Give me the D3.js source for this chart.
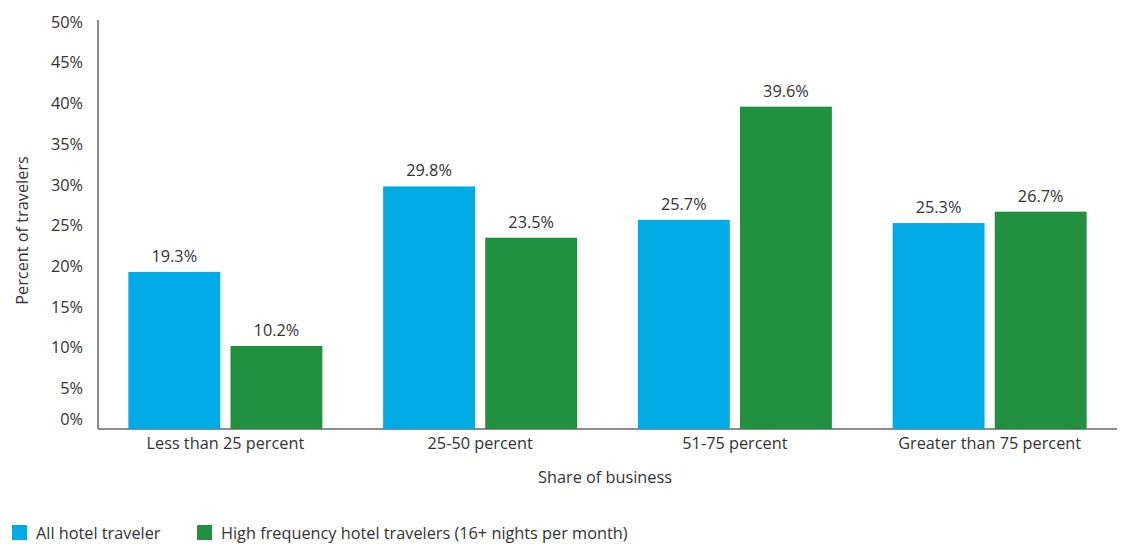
<!DOCTYPE html>
<html>
<head>
<meta charset="utf-8">
<script src="https://cdn.jsdelivr.net/npm/d3@7"></script>
<style>
  body { margin: 0; background: #fff; }
  text { font-family: "Open Sans", "Noto Sans", sans-serif; fill: #333; }
</style>
</head>
<body>
<svg id="chart" width="1123" height="544"></svg>
<script>
// chart data
const categories = ["Less than 25 percent", "25-50 percent", "51-75 percent", "Greater than 75 percent"];
const seriesNames = ["All hotel traveler", "High frequency hotel travelers (16+ nights per month)"];
const allTravelers = [19.3, 29.8, 25.7, 25.3];
const highFrequency = [10.2, 23.5, 39.6, 26.7];
const yTicks = [0, 5, 10, 15, 20, 25, 30, 35, 40, 45, 50];
const colors = ["#00ABE6", "#21913F"];
const fontSize = "16.3px";

const svg = d3.select("#chart");
const margin = { left: 98, right: 6, top: 22, bottom: 115 };
const width = 1123, height = 544;

const x = d3.scaleBand()
  .domain(categories)
  .range([margin.left, width - margin.right])
  .paddingInner(0.2384)
  .paddingOuter(0.1192);

const xSub = d3.scaleBand()
  .domain([0, 1])
  .range([0, x.bandwidth()])
  .paddingInner(0.1);

const y = d3.scaleLinear()
  .domain([0, 50])
  .range([height - margin.bottom, margin.top]);

// y axis
const yAxis = svg.append("g")
  .attr("transform", `translate(${margin.left},0)`)
  .call(d3.axisLeft(y).tickValues(yTicks).tickSize(0).tickPadding(15).tickFormat(d => d + "%"));
yAxis.select(".domain").attr("stroke", "#666").attr("stroke-width", 1.5)
  .attr("d", `M0,${y(0)}V20`);
yAxis.selectAll(".tick text")
  .style("font-size", fontSize)
  .attr("fill", "#333")
  .attr("dy", d => d === 0 ? "-0.25em" : "0.32em");

// x axis
const xAxis = svg.append("g")
  .attr("transform", `translate(0,${y(0)})`)
  .call(d3.axisBottom(x).tickSize(0).tickPadding(8));
xAxis.select(".domain").attr("stroke", "#666").attr("stroke-width", 1.5)
  .attr("d", `M${margin.left},0H${width - margin.right}`);
xAxis.selectAll(".tick text").style("font-size", fontSize).attr("fill", "#333");

// bars
const rows = categories.map((c, i) => ({ cat: c, values: [allTravelers[i], highFrequency[i]] }));

const group = svg.append("g")
  .selectAll("g")
  .data(rows)
  .join("g")
  .attr("transform", d => `translate(${x(d.cat)},0)`);

group.selectAll("rect")
  .data(d => d.values.map((v, k) => ({ k, v })))
  .join("rect")
  .attr("x", d => xSub(d.k))
  .attr("width", xSub.bandwidth())
  .attr("y", d => y(d.v))
  .attr("height", d => y(0) - y(d.v))
  .attr("fill", d => colors[d.k]);

group.selectAll("text.val")
  .data(d => d.values.map((v, k) => ({ k, v })))
  .join("text")
  .attr("class", "val")
  .attr("x", d => xSub(d.k) + xSub.bandwidth() / 2)
  .attr("y", d => y(d.v) - 10)
  .attr("text-anchor", "middle")
  .style("font-size", fontSize)
  .text(d => d.v.toFixed(1) + "%");

// axis titles
svg.append("text")
  .attr("transform", `translate(28,${(y(0) + y(50)) / 2 + 5}) rotate(-90)`)
  .attr("text-anchor", "middle")
  .style("font-size", fontSize)
  .text("Percent of travelers");

svg.append("text")
  .attr("x", 605)
  .attr("y", 483)
  .attr("text-anchor", "middle")
  .style("font-size", fontSize)
  .text("Share of business");

// legend, nudged up a little so its text is not clipped
const legendX = [12, 197];
const legend = svg.append("g")
  .selectAll("g")
  .data(seriesNames)
  .join("g")
  .attr("transform", (d, i) => `translate(${legendX[i]},525)`);

legend.append("rect")
  .attr("width", 15)
  .attr("height", 15)
  .attr("fill", (d, i) => colors[i]);

legend.append("text")
  .attr("x", 24)
  .attr("y", 14)
  .style("font-size", fontSize)
  .text(d => d);
</script>
</body>
</html>
